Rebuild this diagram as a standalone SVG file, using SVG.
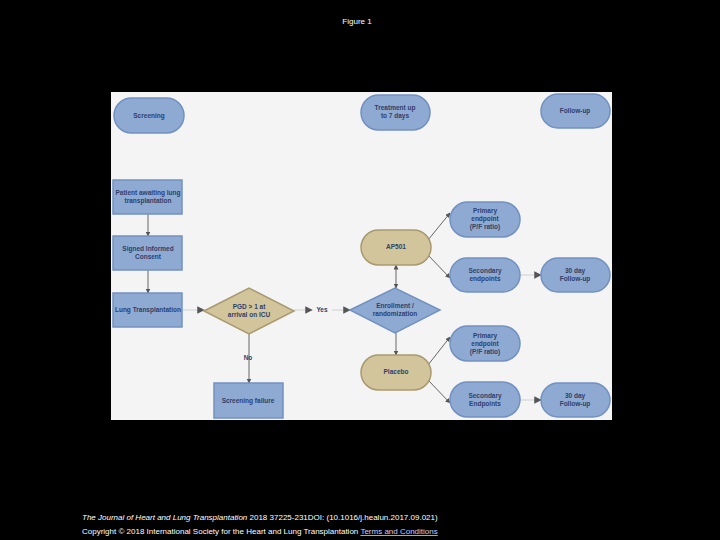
<svg xmlns="http://www.w3.org/2000/svg" width="720" height="540" viewBox="0 0 720 540">
<defs>
<style>
.b{fill:#8eaad3;stroke:#7291c0;stroke-width:1.5}
.t{fill:#d3c59b;stroke:#a89a70;stroke-width:1.5}
.l{font-family:"Liberation Sans",Arial,sans-serif;font-size:6.5px;font-weight:bold;fill:#2e3f6a;text-anchor:middle}
.c{stroke:#666;stroke-width:1;fill:none;marker-end:url(#a)}
.c2{stroke:#ddd;stroke-width:1.5;fill:none;marker-end:url(#a)}
.f{font-family:"Liberation Sans",Arial,sans-serif;font-size:8px;fill:#fff}
</style>
<marker id="a" viewBox="0 0 10 10" refX="9" refY="5" markerWidth="5" markerHeight="5" orient="auto-start-reverse"><path d="M0,0L10,5L0,10z" fill="#555"/></marker>
</defs>
<rect width="720" height="540" fill="#000"/>
<text x="357" y="24" class="f" font-size="13" text-anchor="middle">Figure 1</text>
<rect x="111" y="92" width="501" height="328" fill="#f4f4f4"/>
<g id="connectors">
<path class="c" d="M148,214V236"/>
<path class="c" d="M148,270V293"/>
<path class="c2" d="M182,310H204"/>
<path class="c2" d="M294,310H312"/>
<path class="c2" d="M332,310H350"/>
<path class="c" d="M396,288V265" marker-start="url(#a)"/>
<path class="c" d="M396,333V355"/>
<path class="c" d="M428,240L450,213"/>
<path class="c" d="M428,255L450,278"/>
<path class="c" d="M428,365L450,337"/>
<path class="c" d="M428,380L450,403"/>
<path class="c2" d="M520,275H541"/>
<path class="c2" d="M520,400H541"/>
<path class="c" d="M249,334V383"/>
</g>
<g id="screening"><rect class="b" x="114" y="98" width="70" height="35" rx="17.5"/><text class="l" x="149" y="118">Screening</text></g>
<g id="treatment"><rect class="b" x="361" y="95" width="69" height="35" rx="17.5"/><text class="l" x="395" y="110">Treatment  up</text><text class="l" x="395" y="118">to 7 days</text></g>
<g id="followup"><rect class="b" x="541" y="94" width="69" height="34" rx="17"/><text class="l" x="575" y="113">Follow-up</text></g>
<g id="patient"><rect class="b" x="113" y="180" width="69" height="34"/><text class="l" x="148" y="195">Patient awaiting lung</text><text class="l" x="148" y="203">transplantation</text></g>
<g id="consent"><rect class="b" x="113" y="236" width="69" height="34"/><text class="l" x="148" y="251">Signed Informed</text><text class="l" x="148" y="259">Consent</text></g>
<g id="lung"><rect class="b" x="113" y="293" width="69" height="34"/><text class="l" x="148" y="312">Lung Transplantation</text></g>
<g id="pgd"><polygon class="t" points="204,311 249,288 294,311 249,334"/><text class="l" x="249" y="309">PGD &gt; 1 at</text><text class="l" x="249" y="317">arrival on ICU</text></g>
<text class="l" x="322" y="312">Yes</text>
<g id="enroll"><polygon class="b" points="350,310 395,288 440,310 395,333"/><text class="l" x="395" y="308">Enrollment /</text><text class="l" x="395" y="316">randomization</text></g>
<g id="ap501"><rect class="t" x="361" y="230" width="70" height="35" rx="17.5"/><text class="l" x="396" y="249">AP501</text></g>
<g id="placebo"><rect class="t" x="361" y="355" width="70" height="35" rx="17.5"/><text class="l" x="396" y="374">Placebo</text></g>
<g id="prim1"><rect class="b" x="450" y="202" width="70" height="35" rx="17.5"/><text class="l" x="485" y="213">Primary</text><text class="l" x="485" y="221">endpoint</text><text class="l" x="485" y="229">(P/F ratio)</text></g>
<g id="sec1"><rect class="b" x="450" y="258" width="70" height="34" rx="17"/><text class="l" x="485" y="273">Secondary</text><text class="l" x="485" y="281">endpoints</text></g>
<g id="fu1"><rect class="b" x="541" y="258" width="69" height="34" rx="17"/><text class="l" x="575" y="273">30 day</text><text class="l" x="575" y="281">Follow-up</text></g>
<g id="prim2"><rect class="b" x="450" y="326" width="70" height="35" rx="17.5"/><text class="l" x="485" y="338">Primary</text><text class="l" x="485" y="346">endpoint</text><text class="l" x="485" y="354">(P/F ratio)</text></g>
<g id="sec2"><rect class="b" x="450" y="382" width="70" height="35" rx="17.5"/><text class="l" x="485" y="398">Secondary</text><text class="l" x="485" y="406">Endpoints</text></g>
<g id="fu2"><rect class="b" x="541" y="383" width="69" height="34" rx="17"/><text class="l" x="575" y="398">30 day</text><text class="l" x="575" y="406">Follow-up</text></g>
<g id="fail"><rect class="b" x="214" y="383" width="69" height="35"/><text class="l" x="248" y="403">Screening failure</text></g>
<text class="l" x="248" y="360">No</text>
<text class="f" x="82" y="520"><tspan font-style="italic">The Journal of Heart and Lung Transplantation</tspan> 2018 37225-231DOI: (10.1016/j.healun.2017.09.021)</text>
<text class="f" x="82" y="534">Copyright © 2018 International Society for the Heart and Lung Transplantation <tspan text-decoration="underline" fill="#ccf">Terms and Conditions</tspan></text>
</svg>
